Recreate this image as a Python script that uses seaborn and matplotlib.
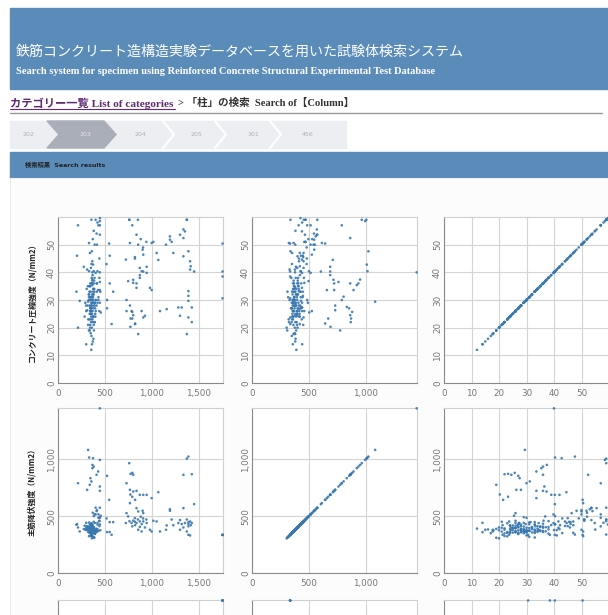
import matplotlib
matplotlib.use("Agg")
import pandas as pd
import seaborn as sns
import matplotlib.pyplot as plt
from matplotlib.patches import Rectangle, Polygon

# ---- values ----
# size_mm: the variable on the first column (0 - ~1750)
# fy: 主筋降伏強度 (N/mm2), fc: コンクリート圧縮強度 (N/mm2)

# dense cluster of ordinary specimens
core_size = [340, 355, 372, 318, 390, 362, 347, 401, 329, 384,
             366, 352, 310, 395, 378, 343, 361, 420, 336, 374,
             358, 389, 325, 348, 367, 412, 381, 339, 356, 298,
             370, 345, 392, 363, 331, 377, 350, 405, 368, 322,
             386, 359, 341, 373, 300, 364, 397, 353, 334, 380,
             369, 346, 415, 357, 388, 327, 361, 375, 338, 350,
             283, 366, 393, 344, 372, 354, 430, 316, 382, 360,
             348, 376, 337, 399, 365, 351, 290, 379, 342, 368,
             356, 410, 333, 371, 362, 345, 386, 320, 374, 358,
             440, 349, 367, 305, 383, 354, 339, 396, 363, 347,
             275, 378, 352, 450, 360, 343, 389, 330, 370, 355]
core_fy = [372, 395, 358, 410, 381, 349, 426, 365, 388, 402,
           356, 418, 377, 343, 391, 364, 433, 384, 352, 369,
           405, 346, 398, 374, 415, 361, 387, 428, 351, 379,
           392, 368, 440, 355, 403, 383, 347, 371, 421, 360,
           389, 412, 376, 318, 397, 366, 354, 408, 381, 450,
           363, 394, 370, 424, 348, 385, 359, 401, 374, 330,
           416, 378, 362, 393, 352, 437, 369, 386, 310, 407,
           375, 357, 399, 366, 413, 325, 382, 361, 395, 371,
           350, 389, 404, 364, 377, 429, 312, 396, 368, 384,
           459, 373, 322, 411, 358, 390, 367, 379, 402, 353,
           386, 365, 420, 376, 305, 398, 362, 444, 380, 357]
core_fc = [28, 31, 24, 35, 22, 29, 33, 26, 19, 37,
           30, 25, 41, 27, 32, 21, 36, 29, 23, 34,
           27, 38, 30, 18, 26, 33, 24, 31, 43, 28,
           22, 35, 29, 25, 32, 16, 27, 30, 39, 23,
           34, 28, 20, 31, 26, 37, 24, 29, 33, 21,
           30, 25, 36, 28, 22, 32, 14, 27, 35, 30,
           24, 40, 29, 26, 33, 23, 31, 28, 19, 36,
           27, 32, 25, 30, 44, 22, 29, 34, 26, 31,
           17, 28, 35, 24, 30, 27, 33, 21, 29, 38,
           26, 31, 23, 34, 28, 12, 30, 25, 32, 27,
           42, 29, 24, 33, 20, 36, 28, 31, 15, 26]

# ordinary size, high concrete strength
hifc_size = [355, 445, 410, 445, 445, 430, 380, 420, 400, 370, 390, 415, 330, 360, 340, 440]
hifc_fy = [338, 426, 544, 574, 485, 515, 382, 441, 574, 529, 515, 553, 324, 338, 353, 412]
hifc_fc = [59, 59.6, 54, 53.6, 57, 57, 55, 58, 59, 52, 50, 50, 50.6, 47.6, 47, 45]

# ordinary size, high-strength rebar
hify_size = [445, 320, 331, 373, 445, 366, 366, 380, 427, 410, 345, 355, 338, 213, 445, 310, 445]
hify_fy = [1447, 1082, 1015, 1009, 994, 950, 921, 935, 892, 863, 833, 805, 775, 789, 760, 731, 722]
hify_fc = [40, 29.4, 40.4, 42.8, 58.5, 37.4, 35.4, 36, 33.6, 36, 27.5, 31.2, 19, 57, 36.5, 26.3, 33.6]

# loose points around the cluster
mid_size = [350, 420, 440, 380, 400, 430, 445, 455, 300,
            522, 544, 550, 516, 550, 587, 570, 522, 203, 196, 231, 213]
mid_fy = [397, 426, 456, 500, 515, 485, 491, 503, 441,
          854, 643, 447, 480, 360, 447, 336, 360, 430, 424, 365, 400]
mid_fc = [41.6, 40.4, 38, 40.4, 39.8, 30, 29, 25.5, 14,
          27, 50.4, 46, 43, 36, 33, 21.3, 30, 46, 33, 29.7, 20]

# large specimens spread out to the right
wide_size = [757, 1387, 1334, 1423, 772, 800, 790, 729, 765, 835, 800, 1067, 870, 907,
             943, 770, 790, 820, 996, 765, 1448, 1334, 835, 1191, 853, 900, 907, 1370,
             729, 746, 722, 818, 835, 870, 907, 943, 853, 889, 978, 996, 1014, 1049,
             1085, 1156, 1149, 1280, 1316, 1350, 1387, 1405, 1370, 1387, 1405, 1298, 850, 880,
             820, 760, 790, 800, 925, 890, 870, 782, 1190, 1209, 1298, 1227, 1334, 1412,
             1423, 1387, 1387, 1370, 905, 818, 940]
wide_fy = [965, 1023, 863, 868, 871, 863, 880, 789, 731, 722, 716, 710, 687, 687,
           687, 690, 670, 643, 658, 614, 605, 570, 570, 547, 541, 547, 526, 1005,
           526, 497, 439, 482, 439, 453, 453, 439, 380, 365, 380, 365, 459, 453,
           365, 418, 380, 439, 430, 439, 447, 453, 365, 336, 330, 380, 470, 495,
           420, 455, 410, 460, 400, 430, 405, 440, 560, 470, 465, 420, 400, 420,
           440, 430, 410, 470, 480, 450, 470]
wide_fc = [59, 47.6, 52.4, 22, 23.3, 24.5, 25.7, 30, 28, 36, 37.3, 44.5, 39, 40.3,
           42, 20.3, 23.3, 21.5, 33.6, 50.6, 40.3, 55.5, 53.6, 51.8, 50, 48.2, 46.4, 59,
           26, 36.8, 44.6, 45, 34.4, 41.6, 23.7, 39.8, 17.7, 26, 34.4, 50.6, 51, 47,
           26, 26.7, 50, 27.3, 27.3, 54.8, 31.5, 44, 17.7, 23.7, 41, 24.3, 59, 52,
           21.3, 59, 57, 36.2, 24.3, 40.4, 38, 26, 53, 51, 53.6, 47, 45.8, 42.2,
           27.3, 29.7, 33.2, 59, 49, 45.5, 51]

# specimens at the far right edge of the first column
edge_size = [1750, 1750, 1750, 1750]
edge_fy = [335, 335, 335, 335]
edge_fc = [30.6, 38.5, 40.3, 50.4]

row_vars = ["fc", "fy", "size"]
col_vars = ["size", "fy", "fc"]
row_labels = ["コンクリート圧縮強度（N/mm2）", "主筋降伏強度（N/mm2）", ""]
axis_max = {"size": 1755, "fy": 1450, "fc": 60}
axis_ticks = {"size": [0, 500, 1000, 1500], "fy": [0, 500, 1000], "fc": [0, 10, 20, 30, 40, 50]}

TITLE = "鉄筋コンクリート造構造実験データベースを用いた試験体検索システム"
SUBTITLE = "Search system for specimen using Reinforced Concrete Structural Experimental Test Database"
CRUMB_LINK = "カテゴリー一覧 List of categories"
CRUMB_REST = "> 「柱」の検索  Search of【Column】"
TABS = ["202", "203", "204", "205", "301", "456"]
SECTION = "検索結果  Search results"

groups = [
    (core_size, core_fy, core_fc),
    (hifc_size, hifc_fy, hifc_fc),
    (hify_size, hify_fy, hify_fc),
    (mid_size, mid_fy, mid_fc),
    (wide_size, wide_fy, wide_fc),
    (edge_size, edge_fy, edge_fc),
]
df = pd.DataFrame({
    "size": [v for g in groups for v in g[0]],
    "fy": [v for g in groups for v in g[1]],
    "fc": [v for g in groups for v in g[2]],
})

sns.set_style("white")
plt.rcParams["font.family"] = ["DejaVu Sans", "Noto Sans CJK JP"]

W, H = 608, 615
BLUE = "#5b8cb9"
DOT = "#3a78b0"

fig = plt.figure(figsize=(W / 100, H / 100), dpi=100)
fig.patch.set_facecolor("white")
renderer = fig.canvas.get_renderer()


def fit(txt, width):
    # scale the font so the text spans the measured width in pixels
    w = txt.get_window_extent(renderer).width
    txt.set_fontsize(txt.get_fontsize() * width / w)


# ---- page chrome (pixel coordinates, y down) ----
page = fig.add_axes([0, 0, 1, 1])
page.set_xlim(0, W)
page.set_ylim(H, 0)
page.axis("off")

page.add_patch(Rectangle((10, 8), W - 10, 81, color=BLUE))
page.add_patch(Rectangle((10, 152), W - 10, 26, color=BLUE))
page.add_patch(Rectangle((10, 178), W - 10, H - 178, facecolor="#fcfcfc", edgecolor="#ececec", lw=0.8))
page.plot([10, 602], [113, 113], color="#9a9a9a", lw=1)

t = page.text(16, 52, TITLE, color="white", fontsize=10, va="center", family=["Noto Sans CJK JP"])
fit(t, 449)
t = page.text(16, 71.5, SUBTITLE, color="white", fontsize=6.5, fontweight="bold",
              va="center", family=["Liberation Serif"])
fit(t, 414)

t = page.text(10, 103, CRUMB_LINK, color="#5e2a73", fontsize=6, fontweight="bold",
              va="center", family=["Liberation Serif", "Noto Sans CJK JP"])
fit(t, 165)
page.plot([10, 175], [108.5, 108.5], color="#5e2a73", lw=0.8)
t = page.text(178, 103, CRUMB_REST, color="#333333", fontsize=6, fontweight="bold",
              va="center", family=["Liberation Serif", "Noto Sans CJK JP"])
fit(t, 177)

# step tabs
page.add_patch(Rectangle((10, 121), 336, 27, color="#eceef2"))
page.add_patch(Polygon([(47, 121), (104, 121), (116, 134.5), (104, 148), (47, 148), (59, 134.5)],
                       closed=True, color="#a9aeb9"))
for b in [163, 215, 270]:
    page.plot([b, b + 11, b], [121, 134.5, 148], color="white", lw=1.5)
for x, lab in zip([28, 85, 140, 196, 253, 308], TABS):
    page.text(x, 134.5, lab, fontsize=4.5, ha="center", va="center",
              color="#e6e6e6" if lab == "203" else "#b0b0b0")

t = page.text(25, 165, SECTION, color="#222222", fontsize=5, fontweight="bold", va="center",
              family=["DejaVu Sans", "Noto Sans CJK JP"])
fit(t, 82)

# ---- scatter matrix ----
col_left = [58, 252, 444]
row_top = [217, 408, 600]
row_h = [166, 165, 165]
panel_w = 165

for i, yv in enumerate(row_vars):
    for j, xv in enumerate(col_vars):
        ax = fig.add_axes([col_left[j] / W, 1 - (row_top[i] + row_h[i]) / H,
                           panel_w / W, row_h[i] / H])
        ax.set_facecolor("white")
        sns.scatterplot(data=df, x=xv, y=yv, ax=ax, s=3.5, color=DOT,
                        edgecolor="none", alpha=0.9, clip_on=False, zorder=3)
        ax.set_xlim(0, axis_max[xv])
        ax.set_ylim(0, axis_max[yv])
        ax.set_xticks(axis_ticks[xv])
        ax.set_yticks(axis_ticks[yv])
        if i < 2:
            # the third row runs off the bottom of the page; only its top shows
            ax.set_xticklabels([f"{v:,}" for v in axis_ticks[xv]])
            ax.set_yticklabels([f"{v:,}" for v in axis_ticks[yv]])
        else:
            ax.set_xticklabels([])
            ax.set_yticklabels([])
        ax.grid(True, color="#d4d4d4", lw=0.8)
        ax.set_axisbelow(True)
        for sp in ax.spines.values():
            sp.set_color("#d0d0d0")
            sp.set_linewidth(0.8)
        ax.spines["left"].set_color("#8a8a8a")
        ax.spines["bottom"].set_color("#8a8a8a")
        ax.tick_params(axis="x", length=0, pad=4, labelsize=6.3, labelcolor="#777777")
        ax.tick_params(axis="y", length=0, pad=1.5, labelsize=6.3, labelcolor="#777777",
                       labelrotation=90)
        for lab in ax.get_yticklabels():
            lab.set_va("center")
        ax.set_xlabel("")
        if j == 0 and row_labels[i]:
            ax.set_ylabel(row_labels[i], fontsize=5.7, fontweight="bold", color="#222222",
                          family=["Noto Sans CJK JP"])
            ax.yaxis.set_label_coords(-0.13, 0.5)
        else:
            ax.set_ylabel("")

fig.savefig("out.png", dpi=100)
